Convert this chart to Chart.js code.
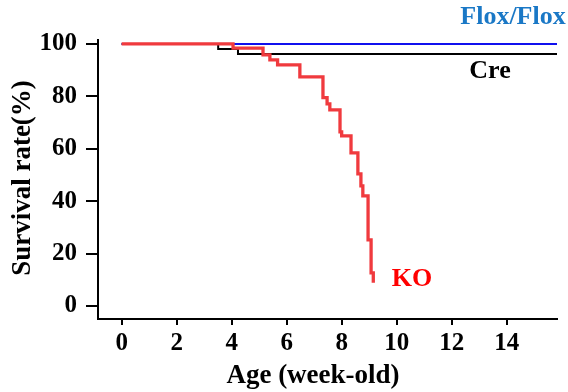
<!DOCTYPE html>
<html>
<head>
<meta charset="utf-8">
<script src="https://cdn.jsdelivr.net/npm/chart.js@4"></script>
<style>
html,body{margin:0;padding:0;background:#fff;}
#wrap{width:568px;height:392px;}
</style>
</head>
<body>
<div id="wrap"><canvas id="c" width="568" height="392"></canvas></div>
<script>
// Kaplan-Meier style survival data (weeks, % surviving)
const floxWeeks = [0, 15.83];
const floxSurv  = [100, 100];

const creWeeks = [0, 3.51, 4.23, 15.83];
const creSurv  = [100, 98.1, 96.2, 96.2];

const koWeeks = [0, 4.05, 5.14, 5.39, 5.67, 6.48, 7.32, 7.47, 7.57, 7.94, 8.0, 8.34, 8.59, 8.70, 8.77, 8.96, 9.07, 9.15];
const koSurv  = [100, 98.4, 95.8, 93.9, 92.0, 87.4, 79.5, 77.1, 74.8, 66.4, 64.9, 58.4, 50.4, 45.8, 42.0, 25.2, 12.6, 8.8];

const xTicks = [0, 2, 4, 6, 8, 10, 12, 14];
const yTicks = [0, 20, 40, 60, 80, 100];

const seriesNames = ['Flox/Flox', 'Cre', 'KO'];
const xTitle = 'Age (week-old)';
const yTitle = 'Survival rate(%)';

function pts(xs, ys){ return xs.map((x,i)=>({x:x, y:ys[i]})); }

const FONT = "'Liberation Serif', 'Times New Roman', serif";

const labelPlugin = {
  id: 'labels',
  afterDraw(chart){
    const ctx = chart.ctx;
    ctx.save();
    ctx.fillStyle = '#000';
    ctx.textAlign = 'center';
    ctx.textBaseline = 'middle';
    ctx.font = "bold 27px " + FONT;
    ctx.fillText(xTitle, 313, 376);
    ctx.save();
    ctx.translate(23, 178);
    ctx.rotate(-Math.PI/2);
    ctx.fillText(yTitle, 0, 0);
    ctx.restore();
    ctx.font = "bold 26px " + FONT;
    ctx.fillStyle = '#1a78c6';
    ctx.fillText(seriesNames[0], 513, 17);
    ctx.fillStyle = '#000';
    ctx.fillText(seriesNames[1], 490, 71);
    ctx.fillStyle = '#ff0000';
    ctx.fillText(seriesNames[2], 412, 279);
    ctx.restore();
  }
};

new Chart(document.getElementById('c'), {
  type: 'line',
  data: {
    datasets: [
      { label: seriesNames[2], data: pts(koWeeks, koSurv), stepped: 'before', borderColor: '#f03a3e', borderWidth: 3.3, pointRadius: 0, fill: false, order: 0 },
      { label: seriesNames[0], data: pts(floxWeeks, floxSurv), stepped: 'before', borderColor: '#1010ee', borderWidth: 2, pointRadius: 0, fill: false, order: 1 },
      { label: seriesNames[1], data: pts(creWeeks, creSurv), stepped: 'before', borderColor: '#000000', borderWidth: 2, pointRadius: 0, fill: false, order: 2 }
    ]
  },
  options: {
    responsive: false,
    animation: false,
    devicePixelRatio: 1,
    layout: { padding: { left: 0, right: 11, top: 40, bottom: 0 } },
    plugins: { legend: { display: false }, tooltip: { enabled: false } },
    scales: {
      x: {
        type: 'linear',
        min: -0.86, max: 15.83,
        afterBuildTicks: (s) => { s.ticks = xTicks.map(v => ({ value: v })); },
        afterFit: (s) => { s.height = 73; },
        grid: { display: true, drawOnChartArea: false, drawTicks: true, tickLength: 6, color: '#000', lineWidth: 2 },
        border: { display: true, color: '#000', width: 2 },
        ticks: { color: '#000', padding: 4, font: { family: FONT, size: 25, weight: 'bold' }, maxRotation: 0 }
      },
      y: {
        type: 'linear',
        min: -5, max: 101.5,
        afterBuildTicks: (s) => { s.ticks = yTicks.map(v => ({ value: v })); },
        afterFit: (s) => { s.width = 98; },
        grid: { display: true, drawOnChartArea: false, drawTicks: true, tickLength: 12, color: '#000', lineWidth: 2 },
        border: { display: true, color: '#000', width: 2 },
        ticks: { color: '#000', padding: 9, font: { family: FONT, size: 25, weight: 'bold' } }
      }
    }
  },
  plugins: [labelPlugin]
});
</script>
</body>
</html>
